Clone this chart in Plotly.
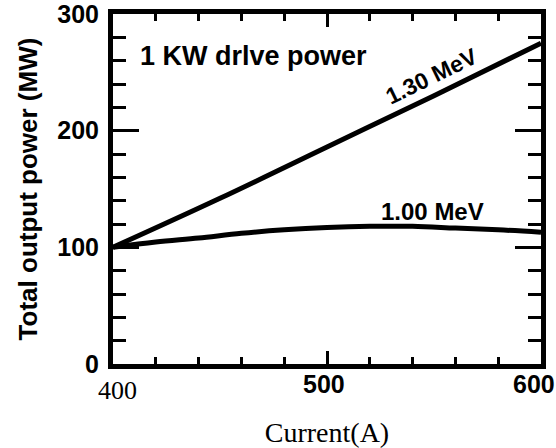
import plotly.graph_objects as go


line_color = '#000000'
bg_color = '#ffffff'
sans_font = 'Liberation Sans, Arial, sans-serif'
serif_font = 'Liberation Serif, Times New Roman, serif'

# current (A) and total output power (MW)
current_130 = [400, 450, 500, 550, 600]
power_130 = [100, 142, 186, 230, 275]

current_100 = [400, 420, 440, 460, 480, 500, 520, 540, 560, 580, 600]
power_100 = [100, 104.5, 108, 112, 115, 117, 118, 118, 116.5, 115, 113]

x_tick_vals = [400, 500, 600]
x_tick_labels = ['400', '500', '600']
y_tick_vals = [0, 100, 200, 300]
y_tick_labels = ['0', '100', '200', '300']


def get_power_plot():
    """
    Total output power against beam current for two beam energies.

    :return: Figure object.
    """
    curve_130 = go.Scatter(
        x=current_130,
        y=power_130,
        mode='lines',
        line=dict(color=line_color, width=5, shape='spline'),
        name='1.30 MeV',
        showlegend=False)

    curve_100 = go.Scatter(
        x=current_100,
        y=power_100,
        mode='lines',
        line=dict(color=line_color, width=5, shape='spline'),
        name='1.00 MeV',
        showlegend=False)

    data = [curve_130, curve_100]

    # x tick labels as annotations: "400" is set in a serif face in the original,
    # and "600" sits a little inside the right edge
    label_fonts = [
        dict(family=serif_font, size=26, color=line_color),
        dict(family=sans_font, size=25, color=line_color, weight='bold'),
        dict(family=sans_font, size=25, color=line_color, weight='bold'),
    ]
    label_shifts = [4, -3, -7]
    label_yshifts = [-10, -4, -4]
    annotations = []
    for val, txt, fnt, xs, ys in zip(x_tick_vals, x_tick_labels, label_fonts, label_shifts, label_yshifts):
        annotations.append(dict(x=val, y=0, xref='x', yref='paper', text=txt,
                                showarrow=False, xanchor='center', yanchor='top',
                                xshift=xs, yshift=ys, font=fnt))

    annotations += [
        dict(x=411.5, y=264, xref='x', yref='y', text='1 KW drlve power',
             showarrow=False, xanchor='left', yanchor='middle',
             font=dict(family=sans_font, size=27, color=line_color, weight='bold')),
        dict(x=549, y=247, xref='x', yref='y', text='1.30 MeV',
             showarrow=False, textangle=-26,
             font=dict(family=sans_font, size=23, color=line_color, weight='bold')),
        dict(x=549.5, y=131, xref='x', yref='y', text='1.00 MeV',
             showarrow=False,
             font=dict(family=sans_font, size=24, color=line_color, weight='bold')),
    ]

    layout = go.Layout(width=556,
                       height=448,
                       margin=dict(l=113, r=15, t=14, b=84),
                       paper_bgcolor=bg_color,
                       plot_bgcolor=bg_color,
                       annotations=annotations,
                       xaxis={'range': [400, 600],
                              'automargin': False,
                              'showline': True,
                              'linewidth': 5,
                              'linecolor': line_color,
                              'mirror': 'allticks',
                              'ticks': 'inside',
                              'tickvals': x_tick_vals,
                              'ticklen': 13,
                              'tickwidth': 2.5,
                              'tickcolor': line_color,
                              'showticklabels': False,
                              'showgrid': False,
                              'zeroline': False,
                              'minor': {'tick0': 400, 'dtick': 20, 'ticks': 'inside',
                                        'ticklen': 7, 'tickwidth': 2.5,
                                        'tickcolor': line_color, 'showgrid': False},
                              'title': {'text': 'Current(A)',
                                        'standoff': 56,
                                        'font': {'family': serif_font, 'size': 28,
                                                 'color': line_color}}},
                       yaxis={'range': [0, 300],
                              'automargin': False,
                              'showline': True,
                              'linewidth': 5,
                              'linecolor': line_color,
                              'mirror': 'allticks',
                              'ticks': 'inside',
                              'tickvals': y_tick_vals,
                              'ticktext': y_tick_labels,
                              'ticklen': 26,
                              'tickwidth': 2.5,
                              'tickcolor': line_color,
                              'ticklabelstandoff': 4,
                              'ticklabeloverflow': 'allow',
                              'tickfont': {'family': sans_font, 'size': 25,
                                           'color': line_color, 'weight': 'bold'},
                              'showgrid': False,
                              'zeroline': False,
                              'minor': {'tick0': 0, 'dtick': 20, 'ticks': 'inside',
                                        'ticklen': 13, 'tickwidth': 2.5,
                                        'tickcolor': line_color, 'showgrid': False},
                              'title': {'text': 'Total output power (MW)',
                                        'standoff': 14,
                                        'font': {'family': sans_font, 'size': 26,
                                                 'color': line_color, 'weight': 'bold'}}},
                       font={'family': sans_font, 'color': line_color})
    fig = go.Figure(data=data, layout=layout)
    return fig


fig = get_power_plot()
# drop the default body margin so the 556x448 figure fills the window exactly
fig.write_html("out.html",
               config={'displayModeBar': False},
               post_script="document.body.style.margin = '0';")
